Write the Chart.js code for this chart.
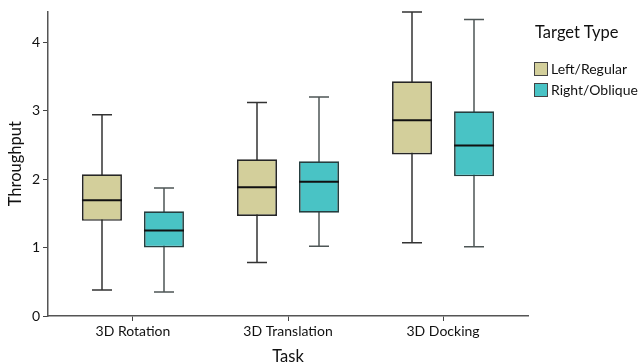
<!DOCTYPE html>
<html>
<head>
<meta charset="utf-8">
<script src="https://cdn.jsdelivr.net/npm/chart.js@4/dist/chart.umd.min.js"></script>
<style>
html,body{margin:0;padding:0;background:#fff;}
#wrap{position:relative;width:642px;height:364px;font-family:Lato, sans-serif;color:#111;}
#legend{position:absolute;left:534px;top:21px;}
#legend .title{font-size:16.5px;line-height:22px;margin-left:1px;margin-bottom:15px;}
#legend .item{display:flex;align-items:center;height:21px;font-size:14px;}
#legend .sw{width:12px;height:12px;border:1.5px solid #444;margin-right:3px;}
</style>
</head>
<body>
<div id="wrap"><canvas id="c" width="642" height="364"></canvas><div id="legend"></div></div>
<script>
const categories = ["3D Rotation", "3D Translation", "3D Docking"];
const seriesNames = ["Left/Regular", "Right/Oblique"];
const legendTitle = "Target Type";
// box plot statistics per series: [Rotation, Translation, Docking]
const leftMin    = [0.38, 0.78, 1.07];
const leftQ1     = [1.39, 1.46, 2.36];
const leftMedian = [1.69, 1.88, 2.86];
const leftQ3     = [2.07, 2.29, 3.43];
const leftMax    = [2.94, 3.12, 4.44];
const rightMin    = [0.35, 1.02, 1.01];
const rightQ1     = [1.00, 1.51, 2.04];
const rightMedian = [1.25, 1.96, 2.49];
const rightQ3     = [1.53, 2.26, 2.99];
const rightMax    = [1.87, 3.20, 4.33];
const yTicks = [0, 1, 2, 3, 4];
const colors = ['#d3cf9b', '#49c3c5'];

const FONT = "Lato";
const stats = [
  {min: leftMin, med: leftMedian, max: leftMax},
  {min: rightMin, med: rightMedian, max: rightMax}
];
function boxData(q1, q3){ return categories.map((c,i)=>({x:i, y:[q1[i], q3[i]]})); }

// legend as HTML text
const lg = document.getElementById('legend');
let html = '<div class="title">' + legendTitle + '</div>';
seriesNames.forEach((n,i)=>{ html += '<div class="item"><div class="sw" style="background:'+colors[i]+'"></div>'+n+'</div>'; });
lg.innerHTML = html;

const boxPlugin = {
  id: 'boxplot',
  beforeDatasetsDraw(chart){
    const ctx = chart.ctx, ys = chart.scales.y;
    chart.data.datasets.forEach((ds, di) => {
      const meta = chart.getDatasetMeta(di);
      const s = stats[di];
      meta.data.forEach((bar, i) => {
        const x = Math.round(bar.x);
        const w = bar.width;
        const yMin = ys.getPixelForValue(s.min[i]);
        const yMax = ys.getPixelForValue(s.max[i]);
        ctx.save();
        ctx.strokeStyle = ds.whiskerColor;
        ctx.lineWidth = 1.5;
        ctx.beginPath();
        ctx.moveTo(x, yMin); ctx.lineTo(x, yMax);
        ctx.moveTo(x - w/4, yMin); ctx.lineTo(x + w/4, yMin);
        ctx.moveTo(x - w/4, yMax); ctx.lineTo(x + w/4, yMax);
        ctx.stroke();
        ctx.restore();
      });
    });
  },
  afterDatasetsDraw(chart){
    const ctx = chart.ctx, ys = chart.scales.y;
    chart.data.datasets.forEach((ds, di) => {
      const meta = chart.getDatasetMeta(di);
      const s = stats[di];
      meta.data.forEach((bar, i) => {
        const w = bar.width;
        const yMed = ys.getPixelForValue(s.med[i]);
        ctx.save();
        ctx.strokeStyle = '#111';
        ctx.lineWidth = 2;
        ctx.beginPath();
        ctx.moveTo(bar.x - w/2, yMed); ctx.lineTo(bar.x + w/2, yMed);
        ctx.stroke();
        ctx.restore();
      });
    });
  }
};

new Chart(document.getElementById('c'), {
  type: 'bar',
  data: {
    datasets: [
      {label: seriesNames[0], data: boxData(leftQ1, leftQ3), backgroundColor: colors[0],
       borderColor: '#262626', borderWidth: 1.7, borderSkipped: false, whiskerColor: '#333'},
      {label: seriesNames[1], data: boxData(rightQ1, rightQ3), backgroundColor: colors[1],
       borderColor: '#253f40', borderWidth: 1.7, borderSkipped: false, whiskerColor: '#4e5656'}
    ]
  },
  plugins: [boxPlugin],
  options: {
    responsive: false,
    animation: false,
    layout: {padding: {top: 10, left: 0, right: 114, bottom: 0}},
    categoryPercentage: 0.8,
    barPercentage: 0.645,
    plugins: {
      tooltip: {enabled: false},
      legend: {display: false}
    },
    scales: {
      x: {
        type: 'linear', min: -0.548, max: 2.548, offset: false,
        afterBuildTicks(scale){ scale.ticks = categories.map((c,i)=>({value:i})); },
        afterFit(scale){ scale.height = 48; },
        ticks: {callback: (v) => categories[v], color: '#111', font: {family: FONT, size: 14}, padding: 2, maxRotation: 0, autoSkip: false},
        grid: {display: true, offset: false, drawOnChartArea: false, drawTicks: true, tickLength: 5, color: '#444', lineWidth: 1},
        border: {display: true, color: '#555', width: 1.5},
        title: {display: true, text: 'Task', color: '#111', font: {family: FONT, size: 16.5}, padding: {top: 0, bottom: -3}}
      },
      y: {
        min: 0, max: 4.45,
        afterBuildTicks(scale){ scale.ticks = yTicks.map(v=>({value:v})); },
        afterFit(scale){ scale.width = 48; },
        ticks: {color: '#111', font: {family: FONT, size: 14}, padding: 3},
        grid: {display: true, drawOnChartArea: false, drawTicks: true, tickLength: 5, color: '#444', lineWidth: 1},
        border: {display: true, color: '#555', width: 1.5},
        title: {display: true, text: 'Throughput', color: '#111', font: {family: FONT, size: 16.5}, padding: {top: 6, bottom: 0}}
      }
    }
  }
});
</script>
</body>
</html>
